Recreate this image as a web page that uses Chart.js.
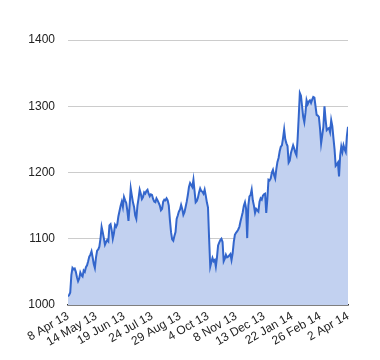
<!DOCTYPE html>
<html>
<head>
<meta charset="utf-8">
<script src="https://cdn.jsdelivr.net/npm/chart.js@4"></script>
<style>
html,body{margin:0;padding:0;background:#fff;}
#wrap{width:380px;height:360px;position:relative;}
</style>
</head>
<body>
<div id="wrap"><canvas id="c" width="380" height="360"></canvas></div>
<script>
const tickLabels = ["8 Apr 13","14 May 13","19 Jun 13","24 Jul 13","29 Aug 13","4 Oct 13","8 Nov 13","13 Dec 13","22 Jan 14","26 Feb 14","2 Apr 14"];
const tickIndex = [0,25,50,75,100,125,150,175,200,225,250];
const yTicks = [1000,1100,1200,1300,1400];
const values = [
1013,1015,1019,1045,1056,1054,1055,1050,1042,1036,
1040,1049,1045,1043,1052,1050,1057,1060,1066,1073,
1076,1081,1072,1062,1056,1072,1082,1084,1088,1100,
1118,1110,1101,1091,1095,1098,1096,1120,1122,1113,
1100,1108,1121,1118,1122,1134,1142,1150,1156,1148,
1163,1158,1154,1142,1127,1150,1176,1165,1155,1148,
1135,1130,1150,1161,1174,1168,1160,1163,1170,1168,
1172,1174,1168,1164,1167,1166,1160,1156,1155,1161,
1158,1154,1150,1143,1145,1156,1159,1158,1161,1158,
1150,1128,1110,1099,1097,1104,1110,1130,1135,1141,
1144,1151,1145,1136,1140,1148,1156,1166,1178,1184,
1181,1178,1189,1172,1155,1157,1162,1170,1176,1172,
1171,1168,1174,1165,1155,1147,1100,1058,1065,1071,
1066,1068,1058,1072,1090,1094,1098,1100,1095,1066,
1070,1076,1072,1073,1075,1077,1068,1078,1095,1106,
1109,1111,1114,1118,1126,1133,1140,1150,1155,1146,
1101,1150,1164,1166,1174,1158,1150,1139,1145,1143,
1141,1156,1161,1159,1165,1167,1168,1139,1160,1189,
1188,1191,1200,1204,1196,1191,1205,1216,1222,1232,
1239,1241,1252,1265,1250,1244,1240,1215,1218,1229,
1235,1241,1236,1230,1226,1250,1284,1320,1316,1300,
1284,1276,1290,1309,1303,1307,1309,1305,1310,1314,
1313,1300,1287,1286,1284,1267,1244,1256,1269,1300,
1280,1264,1266,1267,1261,1279,1270,1252,1235,1210,
1212,1215,1194,1225,1239,1231,1241,1235,1231,1255,1269
];
const points = values.map((v,i)=>({x:i,y:v}));
const FONT = "Arial, 'Liberation Sans', sans-serif";
new Chart(document.getElementById('c'), {
  type: 'line',
  data: { datasets: [{
    data: points,
    borderColor: '#3366cc',
    borderWidth: 2,
    backgroundColor: 'rgb(194,209,240)',
    fill: 'start',
    pointRadius: 0,
    tension: 0
  }]},
  options: {
    responsive: false,
    animation: false,
    events: [],
    layout: { padding: { left: 0, right: 32, top: 40, bottom: 0 } },
    plugins: { legend: { display: false }, tooltip: { enabled: false } },
    scales: {
      x: {
        type: 'linear', min: 0, max: 250,
        afterBuildTicks: (s) => { s.ticks = tickIndex.map(v => ({ value: v })); },
        afterFit: (s) => { s.height = 55; },
        grid: { display: false, drawTicks: false },
        border: { display: true, color: '#333333', width: 1.5 },
        ticks: {
          autoSkip: false, maxRotation: 30, minRotation: 30, padding: 4,
          color: '#222222', font: { family: FONT, size: 12 },
          callback: (v) => { const k = tickIndex.indexOf(v); return k >= 0 ? tickLabels[k] : ''; }
        }
      },
      y: {
        min: 1000, max: 1400,
        afterBuildTicks: (s) => { s.ticks = yTicks.map(v => ({ value: v })); },
        afterFit: (s) => { s.width = 68; },
        grid: { color: '#cccccc', drawTicks: false },
        border: { display: false },
        ticks: { padding: 13, color: '#222222', font: { family: FONT, size: 12 },
          callback: (v) => String(v) }
      }
    }
  }
});
</script>
</body>
</html>
